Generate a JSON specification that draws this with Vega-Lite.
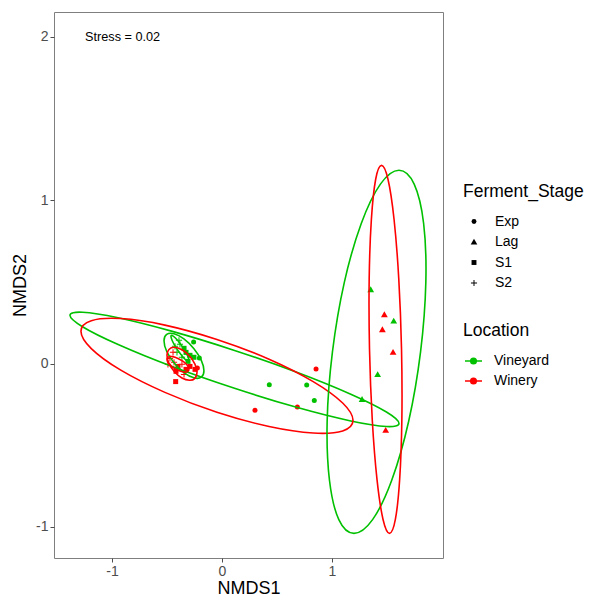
{
 "$schema": "https://vega.github.io/schema/vega-lite/v6.json",
 "width": 389, "height": 546,
 "autosize": {"type": "none"},
 "padding": {"left": 54, "top": 12, "right": 152, "bottom": 39},
 "background": "white",
 "config": {
  "font": "Liberation Sans",
  "view": {"stroke": "#7f7f7f", "strokeWidth": 1},
  "axis": {"grid": false, "domain": false, "tickColor": "#4d4d4d", "tickSize": 4, "labelColor": "#4d4d4d", "labelFontSize": 14, "labelPadding": 2, "titleFontSize": 18, "titleFontWeight": "normal", "titleColor": "black", "labelExpr": "'' + datum.value"}
 },
 "datasets": {
  "pts": [
   {"Location": "Vineyard", "Ferment_Stage": "Exp", "NMDS1": 0.430, "NMDS2": -0.129},
   {"Location": "Vineyard", "Ferment_Stage": "Exp", "NMDS1": 0.770, "NMDS2": -0.131},
   {"Location": "Vineyard", "Ferment_Stage": "Exp", "NMDS1": 0.839, "NMDS2": -0.225},
   {"Location": "Vineyard", "Ferment_Stage": "Exp", "NMDS1": -0.258, "NMDS2": 0.132},
   {"Location": "Vineyard", "Ferment_Stage": "Exp", "NMDS1": -0.206, "NMDS2": 0.034},
   {"Location": "Winery", "Ferment_Stage": "Exp", "NMDS1": 0.855, "NMDS2": -0.033},
   {"Location": "Winery", "Ferment_Stage": "Exp", "NMDS1": 0.300, "NMDS2": -0.286},
   {"Location": "Winery", "Ferment_Stage": "Exp", "NMDS1": 0.685, "NMDS2": -0.265},
   {"Location": "Winery", "Ferment_Stage": "Exp", "NMDS1": -0.224, "NMDS2": -0.027},
   {"Location": "Vineyard", "Ferment_Stage": "Lag", "NMDS1": 1.352, "NMDS2": 0.453},
   {"Location": "Vineyard", "Ferment_Stage": "Lag", "NMDS1": 1.561, "NMDS2": 0.261},
   {"Location": "Vineyard", "Ferment_Stage": "Lag", "NMDS1": 1.415, "NMDS2": -0.067},
   {"Location": "Vineyard", "Ferment_Stage": "Lag", "NMDS1": 1.273, "NMDS2": -0.219},
   {"Location": "Winery", "Ferment_Stage": "Lag", "NMDS1": 1.476, "NMDS2": 0.300},
   {"Location": "Winery", "Ferment_Stage": "Lag", "NMDS1": 1.458, "NMDS2": 0.208},
   {"Location": "Winery", "Ferment_Stage": "Lag", "NMDS1": 1.555, "NMDS2": 0.069},
   {"Location": "Winery", "Ferment_Stage": "Lag", "NMDS1": 1.488, "NMDS2": -0.408},
   {"Location": "Vineyard", "Ferment_Stage": "S2", "NMDS1": -0.382, "NMDS2": 0.118},
   {"Location": "Vineyard", "Ferment_Stage": "S1", "NMDS1": -0.345, "NMDS2": 0.094},
   {"Location": "Vineyard", "Ferment_Stage": "S2", "NMDS1": -0.409, "NMDS2": 0.069},
   {"Location": "Vineyard", "Ferment_Stage": "S1", "NMDS1": -0.327, "NMDS2": 0.069},
   {"Location": "Vineyard", "Ferment_Stage": "S2", "NMDS1": -0.364, "NMDS2": 0.039},
   {"Location": "Vineyard", "Ferment_Stage": "S1", "NMDS1": -0.291, "NMDS2": 0.051},
   {"Location": "Vineyard", "Ferment_Stage": "S2", "NMDS1": -0.427, "NMDS2": 0.106},
   {"Location": "Vineyard", "Ferment_Stage": "S1", "NMDS1": -0.309, "NMDS2": 0.014},
   {"Location": "Vineyard", "Ferment_Stage": "S1", "NMDS1": -0.255, "NMDS2": 0.039},
   {"Location": "Vineyard", "Ferment_Stage": "S2", "NMDS1": -0.391, "NMDS2": 0.143},
   {"Location": "Winery", "Ferment_Stage": "S2", "NMDS1": -0.473, "NMDS2": 0.032},
   {"Location": "Winery", "Ferment_Stage": "S2", "NMDS1": -0.436, "NMDS2": 0.008},
   {"Location": "Winery", "Ferment_Stage": "S1", "NMDS1": -0.400, "NMDS2": -0.017},
   {"Location": "Winery", "Ferment_Stage": "S2", "NMDS1": -0.364, "NMDS2": -0.004},
   {"Location": "Winery", "Ferment_Stage": "S1", "NMDS1": -0.327, "NMDS2": -0.035},
   {"Location": "Winery", "Ferment_Stage": "S1", "NMDS1": -0.291, "NMDS2": -0.017},
   {"Location": "Winery", "Ferment_Stage": "S1", "NMDS1": -0.418, "NMDS2": -0.047},
   {"Location": "Winery", "Ferment_Stage": "S2", "NMDS1": -0.345, "NMDS2": -0.066},
   {"Location": "Winery", "Ferment_Stage": "S1", "NMDS1": -0.245, "NMDS2": -0.035},
   {"Location": "Winery", "Ferment_Stage": "S2", "NMDS1": -0.491, "NMDS2": -0.004},
   {"Location": "Winery", "Ferment_Stage": "S2", "NMDS1": -0.445, "NMDS2": 0.069},
   {"Location": "Winery", "Ferment_Stage": "S1", "NMDS1": -0.421, "NMDS2": -0.110}
  ],
  "ell": [
   {"e": "VE", "Location": "Vineyard", "k": 0, "NMDS1": 1.609, "NMDS2": -0.366},
   {"e": "VE", "Location": "Vineyard", "k": 1, "NMDS1": 1.495, "NMDS2": -0.385},
   {"e": "VE", "Location": "Vineyard", "k": 2, "NMDS1": 1.171, "NMDS2": -0.351},
   {"e": "VE", "Location": "Vineyard", "k": 3, "NMDS1": 0.686, "NMDS2": -0.269},
   {"e": "VE", "Location": "Vineyard", "k": 4, "NMDS1": 0.114, "NMDS2": -0.151},
   {"e": "VE", "Location": "Vineyard", "k": 5, "NMDS1": -0.459, "NMDS2": -0.016},
   {"e": "VE", "Location": "Vineyard", "k": 6, "NMDS1": -0.944, "NMDS2": 0.117},
   {"e": "VE", "Location": "Vineyard", "k": 7, "NMDS1": -1.268, "NMDS2": 0.226},
   {"e": "VE", "Location": "Vineyard", "k": 8, "NMDS1": -1.382, "NMDS2": 0.296},
   {"e": "VE", "Location": "Vineyard", "k": 9, "NMDS1": -1.268, "NMDS2": 0.315},
   {"e": "VE", "Location": "Vineyard", "k": 10, "NMDS1": -0.944, "NMDS2": 0.281},
   {"e": "VE", "Location": "Vineyard", "k": 11, "NMDS1": -0.459, "NMDS2": 0.199},
   {"e": "VE", "Location": "Vineyard", "k": 12, "NMDS1": 0.114, "NMDS2": 0.081},
   {"e": "VE", "Location": "Vineyard", "k": 13, "NMDS1": 0.686, "NMDS2": -0.054},
   {"e": "VE", "Location": "Vineyard", "k": 14, "NMDS1": 1.171, "NMDS2": -0.187},
   {"e": "VE", "Location": "Vineyard", "k": 15, "NMDS1": 1.495, "NMDS2": -0.296},
   {"e": "WE", "Location": "Winery", "k": 0, "NMDS1": 1.191, "NMDS2": -0.347},
   {"e": "WE", "Location": "Winery", "k": 1, "NMDS1": 1.097, "NMDS2": -0.412},
   {"e": "WE", "Location": "Winery", "k": 2, "NMDS1": 0.829, "NMDS2": -0.425},
   {"e": "WE", "Location": "Winery", "k": 3, "NMDS1": 0.428, "NMDS2": -0.385},
   {"e": "WE", "Location": "Winery", "k": 4, "NMDS1": -0.046, "NMDS2": -0.298},
   {"e": "WE", "Location": "Winery", "k": 5, "NMDS1": -0.519, "NMDS2": -0.176},
   {"e": "WE", "Location": "Winery", "k": 6, "NMDS1": -0.920, "NMDS2": -0.040},
   {"e": "WE", "Location": "Winery", "k": 7, "NMDS1": -1.188, "NMDS2": 0.092},
   {"e": "WE", "Location": "Winery", "k": 8, "NMDS1": -1.282, "NMDS2": 0.198},
   {"e": "WE", "Location": "Winery", "k": 9, "NMDS1": -1.188, "NMDS2": 0.263},
   {"e": "WE", "Location": "Winery", "k": 10, "NMDS1": -0.920, "NMDS2": 0.276},
   {"e": "WE", "Location": "Winery", "k": 11, "NMDS1": -0.519, "NMDS2": 0.236},
   {"e": "WE", "Location": "Winery", "k": 12, "NMDS1": -0.046, "NMDS2": 0.148},
   {"e": "WE", "Location": "Winery", "k": 13, "NMDS1": 0.428, "NMDS2": 0.027},
   {"e": "WE", "Location": "Winery", "k": 14, "NMDS1": 0.829, "NMDS2": -0.110},
   {"e": "WE", "Location": "Winery", "k": 15, "NMDS1": 1.097, "NMDS2": -0.241},
   {"e": "VL", "Location": "Vineyard", "k": 0, "NMDS1": 1.805, "NMDS2": 0.072},
   {"e": "VL", "Location": "Vineyard", "k": 1, "NMDS1": 1.853, "NMDS2": 0.498},
   {"e": "VL", "Location": "Vineyard", "k": 2, "NMDS1": 1.833, "NMDS2": 0.858},
   {"e": "VL", "Location": "Vineyard", "k": 3, "NMDS1": 1.747, "NMDS2": 1.099},
   {"e": "VL", "Location": "Vineyard", "k": 4, "NMDS1": 1.609, "NMDS2": 1.184},
   {"e": "VL", "Location": "Vineyard", "k": 5, "NMDS1": 1.440, "NMDS2": 1.099},
   {"e": "VL", "Location": "Vineyard", "k": 6, "NMDS1": 1.266, "NMDS2": 0.858},
   {"e": "VL", "Location": "Vineyard", "k": 7, "NMDS1": 1.112, "NMDS2": 0.498},
   {"e": "VL", "Location": "Vineyard", "k": 8, "NMDS1": 1.004, "NMDS2": 0.072},
   {"e": "VL", "Location": "Vineyard", "k": 9, "NMDS1": 0.956, "NMDS2": -0.353},
   {"e": "VL", "Location": "Vineyard", "k": 10, "NMDS1": 0.977, "NMDS2": -0.714},
   {"e": "VL", "Location": "Vineyard", "k": 11, "NMDS1": 1.062, "NMDS2": -0.955},
   {"e": "VL", "Location": "Vineyard", "k": 12, "NMDS1": 1.200, "NMDS2": -1.039},
   {"e": "VL", "Location": "Vineyard", "k": 13, "NMDS1": 1.369, "NMDS2": -0.955},
   {"e": "VL", "Location": "Vineyard", "k": 14, "NMDS1": 1.543, "NMDS2": -0.714},
   {"e": "VL", "Location": "Vineyard", "k": 15, "NMDS1": 1.697, "NMDS2": -0.353},
   {"e": "WL", "Location": "Winery", "k": 0, "NMDS1": 1.632, "NMDS2": 0.088},
   {"e": "WL", "Location": "Winery", "k": 1, "NMDS1": 1.607, "NMDS2": 0.519},
   {"e": "WL", "Location": "Winery", "k": 2, "NMDS1": 1.564, "NMDS2": 0.884},
   {"e": "WL", "Location": "Winery", "k": 3, "NMDS1": 1.509, "NMDS2": 1.129},
   {"e": "WL", "Location": "Winery", "k": 4, "NMDS1": 1.450, "NMDS2": 1.214},
   {"e": "WL", "Location": "Winery", "k": 5, "NMDS1": 1.397, "NMDS2": 1.129},
   {"e": "WL", "Location": "Winery", "k": 6, "NMDS1": 1.358, "NMDS2": 0.884},
   {"e": "WL", "Location": "Winery", "k": 7, "NMDS1": 1.338, "NMDS2": 0.519},
   {"e": "WL", "Location": "Winery", "k": 8, "NMDS1": 1.341, "NMDS2": 0.088},
   {"e": "WL", "Location": "Winery", "k": 9, "NMDS1": 1.366, "NMDS2": -0.344},
   {"e": "WL", "Location": "Winery", "k": 10, "NMDS1": 1.409, "NMDS2": -0.709},
   {"e": "WL", "Location": "Winery", "k": 11, "NMDS1": 1.464, "NMDS2": -0.954},
   {"e": "WL", "Location": "Winery", "k": 12, "NMDS1": 1.523, "NMDS2": -1.039},
   {"e": "WL", "Location": "Winery", "k": 13, "NMDS1": 1.576, "NMDS2": -0.954},
   {"e": "WL", "Location": "Winery", "k": 14, "NMDS1": 1.615, "NMDS2": -0.709},
   {"e": "WL", "Location": "Winery", "k": 15, "NMDS1": 1.635, "NMDS2": -0.344},
   {"e": "VS1", "Location": "Vineyard", "k": 0, "NMDS1": -0.164, "NMDS2": -0.044},
   {"e": "VS1", "Location": "Vineyard", "k": 1, "NMDS1": -0.188, "NMDS2": -0.083},
   {"e": "VS1", "Location": "Vineyard", "k": 2, "NMDS1": -0.255, "NMDS2": -0.087},
   {"e": "VS1", "Location": "Vineyard", "k": 3, "NMDS1": -0.346, "NMDS2": -0.055},
   {"e": "VS1", "Location": "Vineyard", "k": 4, "NMDS1": -0.436, "NMDS2": 0.005},
   {"e": "VS1", "Location": "Vineyard", "k": 5, "NMDS1": -0.503, "NMDS2": 0.076},
   {"e": "VS1", "Location": "Vineyard", "k": 6, "NMDS1": -0.527, "NMDS2": 0.140},
   {"e": "VS1", "Location": "Vineyard", "k": 7, "NMDS1": -0.503, "NMDS2": 0.179},
   {"e": "VS1", "Location": "Vineyard", "k": 8, "NMDS1": -0.436, "NMDS2": 0.183},
   {"e": "VS1", "Location": "Vineyard", "k": 9, "NMDS1": -0.346, "NMDS2": 0.151},
   {"e": "VS1", "Location": "Vineyard", "k": 10, "NMDS1": -0.255, "NMDS2": 0.091},
   {"e": "VS1", "Location": "Vineyard", "k": 11, "NMDS1": -0.188, "NMDS2": 0.020},
   {"e": "VS2", "Location": "Vineyard", "k": 0, "NMDS1": -0.300, "NMDS2": 0.020},
   {"e": "VS2", "Location": "Vineyard", "k": 1, "NMDS1": -0.311, "NMDS2": 0.015},
   {"e": "VS2", "Location": "Vineyard", "k": 2, "NMDS1": -0.341, "NMDS2": 0.030},
   {"e": "VS2", "Location": "Vineyard", "k": 3, "NMDS1": -0.382, "NMDS2": 0.063},
   {"e": "VS2", "Location": "Vineyard", "k": 4, "NMDS1": -0.423, "NMDS2": 0.104},
   {"e": "VS2", "Location": "Vineyard", "k": 5, "NMDS1": -0.453, "NMDS2": 0.142},
   {"e": "VS2", "Location": "Vineyard", "k": 6, "NMDS1": -0.464, "NMDS2": 0.167},
   {"e": "VS2", "Location": "Vineyard", "k": 7, "NMDS1": -0.453, "NMDS2": 0.173},
   {"e": "VS2", "Location": "Vineyard", "k": 8, "NMDS1": -0.423, "NMDS2": 0.157},
   {"e": "VS2", "Location": "Vineyard", "k": 9, "NMDS1": -0.382, "NMDS2": 0.124},
   {"e": "VS2", "Location": "Vineyard", "k": 10, "NMDS1": -0.341, "NMDS2": 0.083},
   {"e": "VS2", "Location": "Vineyard", "k": 11, "NMDS1": -0.311, "NMDS2": 0.045},
   {"e": "WS1", "Location": "Winery", "k": 0, "NMDS1": -0.227, "NMDS2": -0.053},
   {"e": "WS1", "Location": "Winery", "k": 1, "NMDS1": -0.246, "NMDS2": -0.090},
   {"e": "WS1", "Location": "Winery", "k": 2, "NMDS1": -0.295, "NMDS2": -0.102},
   {"e": "WS1", "Location": "Winery", "k": 3, "NMDS1": -0.364, "NMDS2": -0.088},
   {"e": "WS1", "Location": "Winery", "k": 4, "NMDS1": -0.432, "NMDS2": -0.050},
   {"e": "WS1", "Location": "Winery", "k": 5, "NMDS1": -0.482, "NMDS2": 0.001},
   {"e": "WS1", "Location": "Winery", "k": 6, "NMDS1": -0.500, "NMDS2": 0.051},
   {"e": "WS1", "Location": "Winery", "k": 7, "NMDS1": -0.482, "NMDS2": 0.087},
   {"e": "WS1", "Location": "Winery", "k": 8, "NMDS1": -0.432, "NMDS2": 0.100},
   {"e": "WS1", "Location": "Winery", "k": 9, "NMDS1": -0.364, "NMDS2": 0.085},
   {"e": "WS1", "Location": "Winery", "k": 10, "NMDS1": -0.295, "NMDS2": 0.047},
   {"e": "WS1", "Location": "Winery", "k": 11, "NMDS1": -0.246, "NMDS2": -0.003},
   {"e": "WS2", "Location": "Winery", "k": 0, "NMDS1": -0.300, "NMDS2": -0.035},
   {"e": "WS2", "Location": "Winery", "k": 1, "NMDS1": -0.313, "NMDS2": -0.049},
   {"e": "WS2", "Location": "Winery", "k": 2, "NMDS1": -0.350, "NMDS2": -0.051},
   {"e": "WS2", "Location": "Winery", "k": 3, "NMDS1": -0.400, "NMDS2": -0.041},
   {"e": "WS2", "Location": "Winery", "k": 4, "NMDS1": -0.450, "NMDS2": -0.021},
   {"e": "WS2", "Location": "Winery", "k": 5, "NMDS1": -0.487, "NMDS2": 0.004},
   {"e": "WS2", "Location": "Winery", "k": 6, "NMDS1": -0.500, "NMDS2": 0.026},
   {"e": "WS2", "Location": "Winery", "k": 7, "NMDS1": -0.487, "NMDS2": 0.041},
   {"e": "WS2", "Location": "Winery", "k": 8, "NMDS1": -0.450, "NMDS2": 0.043},
   {"e": "WS2", "Location": "Winery", "k": 9, "NMDS1": -0.400, "NMDS2": 0.032},
   {"e": "WS2", "Location": "Winery", "k": 10, "NMDS1": -0.350, "NMDS2": 0.012},
   {"e": "WS2", "Location": "Winery", "k": 11, "NMDS1": -0.313, "NMDS2": -0.012}
  ],
  "ann": [{"NMDS1": -1.245, "NMDS2": 2.0, "label": "Stress = 0.02"}]
 },
 "layer": [
  {
   "data": {"name": "pts"},
   "mark": {"type": "point", "filled": true, "size": 25, "opacity": 1},
   "encoding": {
    "x": {"field": "NMDS1", "type": "quantitative", "scale": {"domain": [-1.527, 2.009], "nice": false, "zero": false}, "axis": {"values": [-1, 0, 1], "title": "NMDS1", "titlePadding": 1}},
    "y": {"field": "NMDS2", "type": "quantitative", "scale": {"domain": [-1.19, 2.153], "nice": false, "zero": false}, "axis": {"values": [-1, 0, 1, 2], "title": "NMDS2", "titlePadding": 6}},
    "color": {"field": "Location", "type": "nominal", "scale": {"domain": ["Vineyard", "Winery"], "range": ["#00C000", "#FF0000"]},
     "legend": {"title": "Location", "orient": "none", "legendX": 409, "legendY": 310, "titleFontSize": 17.5, "titleFontWeight": "normal", "titleColor": "black", "titlePadding": 12, "labelFontSize": 14, "labelColor": "black", "rowPadding": 3, "symbolType": "M-1,0H1M-0.33,0A0.33,0.33,0,1,1,0.33,0A0.33,0.33,0,1,1,-0.33,0Z", "symbolSize": 289, "symbolStrokeWidth": 1.5, "symbolOffset": 1, "labelOffset": 11,
      "encode": {"symbols": {"update": {"stroke": {"scale": "color", "field": "value"}, "fill": {"scale": "color", "field": "value"}, "strokeWidth": {"value": 1.5}, "opacity": {"value": 1}}}}}},
    "shape": {"field": "Ferment_Stage", "type": "nominal", "scale": {"domain": ["Exp", "Lag", "S1", "S2"], "range": ["circle", "M0,-1.35L1.35,1L-1.35,1Z", "square", "M-1.25,-0.2H-0.2V-1.25H0.2V-0.2H1.25V0.2H0.2V1.25H-0.2V0.2H-1.25Z"]},
     "legend": {"title": "Ferment_Stage", "orient": "none", "legendX": 409, "legendY": 171, "titleFontSize": 17.5, "titleFontWeight": "normal", "titleColor": "black", "titlePadding": 14, "labelFontSize": 14, "labelColor": "black", "rowPadding": 6.5, "symbolSize": 24, "symbolOffset": 4, "labelOffset": 14,
      "encode": {"symbols": {"update": {"fill": {"value": "black"}, "opacity": {"value": 1}}}}}}
   }
  },
  {
   "data": {"name": "ell"},
   "mark": {"type": "line", "interpolate": "cardinal-closed", "strokeWidth": 1.6},
   "encoding": {
    "x": {"field": "NMDS1", "type": "quantitative"},
    "y": {"field": "NMDS2", "type": "quantitative"},
    "color": {"field": "Location", "type": "nominal"},
    "detail": {"field": "e", "type": "nominal"},
    "order": {"field": "k", "type": "quantitative"}
   }
  },
  {
   "data": {"name": "ann"},
   "mark": {"type": "text", "align": "left", "baseline": "middle", "fontSize": 12.7, "color": "black"},
   "encoding": {
    "x": {"field": "NMDS1", "type": "quantitative"},
    "y": {"field": "NMDS2", "type": "quantitative"},
    "text": {"field": "label"}
   }
  }
 ]
}
